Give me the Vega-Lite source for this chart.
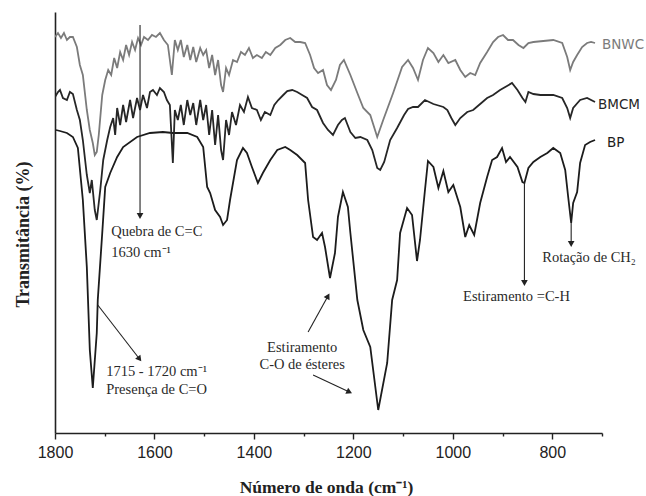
{
  "$schema": "https://vega.github.io/schema/vega-lite/v6.json",
  "width": 547,
  "height": 421,
  "autosize": {"type": "none"},
  "padding": {"left": 55, "top": 12, "right": 44, "bottom": 63},
  "background": "white",
  "config": {"view": {"stroke": null}},
  "datasets": {
    "spectra": [
      {"s":"BP","wn":1798,"v":310},{"s":"BP","wn":1790,"v":309},{"s":"BP","wn":1776,"v":307},{"s":"BP","wn":1764,"v":303},{"s":"BP","wn":1754,"v":292},{"s":"BP","wn":1744,"v":240},{"s":"BP","wn":1736,"v":173},{"s":"BP","wn":1730,"v":90},{"s":"BP","wn":1724,"v":52},{"s":"BP","wn":1716,"v":107},{"s":"BP","wn":1714,"v":140},{"s":"BP","wn":1705,"v":207},{"s":"BP","wn":1699,"v":253},{"s":"BP","wn":1689,"v":267},{"s":"BP","wn":1675,"v":283},{"s":"BP","wn":1663,"v":293},{"s":"BP","wn":1635,"v":303},{"s":"BP","wn":1609,"v":307},{"s":"BP","wn":1583,"v":308},{"s":"BP","wn":1563,"v":307},{"s":"BP","wn":1534,"v":307},{"s":"BP","wn":1514,"v":303},{"s":"BP","wn":1502,"v":293},{"s":"BP","wn":1494,"v":253},{"s":"BP","wn":1488,"v":247},{"s":"BP","wn":1478,"v":230},{"s":"BP","wn":1468,"v":223},{"s":"BP","wn":1462,"v":215},{"s":"BP","wn":1454,"v":220},{"s":"BP","wn":1448,"v":240},{"s":"BP","wn":1434,"v":280},{"s":"BP","wn":1422,"v":292},{"s":"BP","wn":1414,"v":287},{"s":"BP","wn":1404,"v":273},{"s":"BP","wn":1392,"v":257},{"s":"BP","wn":1382,"v":267},{"s":"BP","wn":1367,"v":280},{"s":"BP","wn":1353,"v":290},{"s":"BP","wn":1337,"v":293},{"s":"BP","wn":1327,"v":290},{"s":"BP","wn":1313,"v":285},{"s":"BP","wn":1297,"v":277},{"s":"BP","wn":1291,"v":240},{"s":"BP","wn":1281,"v":203},{"s":"BP","wn":1273,"v":200},{"s":"BP","wn":1263,"v":207},{"s":"BP","wn":1257,"v":193},{"s":"BP","wn":1247,"v":162},{"s":"BP","wn":1237,"v":187},{"s":"BP","wn":1231,"v":223},{"s":"BP","wn":1221,"v":248},{"s":"BP","wn":1211,"v":233},{"s":"BP","wn":1206,"v":207},{"s":"BP","wn":1192,"v":140},{"s":"BP","wn":1180,"v":110},{"s":"BP","wn":1166,"v":93},{"s":"BP","wn":1150,"v":30},{"s":"BP","wn":1132,"v":77},{"s":"BP","wn":1122,"v":140},{"s":"BP","wn":1112,"v":160},{"s":"BP","wn":1106,"v":207},{"s":"BP","wn":1092,"v":232},{"s":"BP","wn":1082,"v":225},{"s":"BP","wn":1072,"v":179},{"s":"BP","wn":1066,"v":200},{"s":"BP","wn":1056,"v":250},{"s":"BP","wn":1050,"v":279},{"s":"BP","wn":1039,"v":273},{"s":"BP","wn":1029,"v":252},{"s":"BP","wn":1019,"v":269},{"s":"BP","wn":1009,"v":248},{"s":"BP","wn":999,"v":255},{"s":"BP","wn":985,"v":233},{"s":"BP","wn":975,"v":203},{"s":"BP","wn":967,"v":215},{"s":"BP","wn":957,"v":205},{"s":"BP","wn":945,"v":237},{"s":"BP","wn":931,"v":263},{"s":"BP","wn":921,"v":280},{"s":"BP","wn":911,"v":283},{"s":"BP","wn":901,"v":292},{"s":"BP","wn":893,"v":278},{"s":"BP","wn":885,"v":283},{"s":"BP","wn":870,"v":273},{"s":"BP","wn":860,"v":258},{"s":"BP","wn":856,"v":257},{"s":"BP","wn":848,"v":272},{"s":"BP","wn":838,"v":278},{"s":"BP","wn":824,"v":283},{"s":"BP","wn":810,"v":287},{"s":"BP","wn":798,"v":292},{"s":"BP","wn":784,"v":287},{"s":"BP","wn":774,"v":270},{"s":"BP","wn":768,"v":243},{"s":"BP","wn":762,"v":217},{"s":"BP","wn":758,"v":237},{"s":"BP","wn":750,"v":248},{"s":"BP","wn":744,"v":277},{"s":"BP","wn":734,"v":295},{"s":"BP","wn":724,"v":298},{"s":"BP","wn":714,"v":300},
      {"s":"BMCM","wn":1800,"v":343},{"s":"BMCM","wn":1794,"v":348},{"s":"BMCM","wn":1790,"v":350},{"s":"BMCM","wn":1784,"v":342},{"s":"BMCM","wn":1776,"v":340},{"s":"BMCM","wn":1770,"v":348},{"s":"BMCM","wn":1764,"v":346},{"s":"BMCM","wn":1756,"v":330},{"s":"BMCM","wn":1750,"v":320},{"s":"BMCM","wn":1744,"v":300},{"s":"BMCM","wn":1736,"v":265},{"s":"BMCM","wn":1730,"v":247},{"s":"BMCM","wn":1726,"v":260},{"s":"BMCM","wn":1720,"v":230},{"s":"BMCM","wn":1716,"v":220},{"s":"BMCM","wn":1709,"v":250},{"s":"BMCM","wn":1703,"v":280},{"s":"BMCM","wn":1695,"v":300},{"s":"BMCM","wn":1689,"v":313},{"s":"BMCM","wn":1683,"v":322},{"s":"BMCM","wn":1679,"v":305},{"s":"BMCM","wn":1675,"v":332},{"s":"BMCM","wn":1669,"v":315},{"s":"BMCM","wn":1663,"v":335},{"s":"BMCM","wn":1657,"v":318},{"s":"BMCM","wn":1649,"v":340},{"s":"BMCM","wn":1643,"v":322},{"s":"BMCM","wn":1635,"v":342},{"s":"BMCM","wn":1629,"v":330},{"s":"BMCM","wn":1623,"v":345},{"s":"BMCM","wn":1615,"v":332},{"s":"BMCM","wn":1609,"v":348},{"s":"BMCM","wn":1603,"v":350},{"s":"BMCM","wn":1595,"v":345},{"s":"BMCM","wn":1589,"v":352},{"s":"BMCM","wn":1581,"v":348},{"s":"BMCM","wn":1575,"v":340},{"s":"BMCM","wn":1569,"v":335},{"s":"BMCM","wn":1563,"v":277},{"s":"BMCM","wn":1559,"v":330},{"s":"BMCM","wn":1553,"v":320},{"s":"BMCM","wn":1547,"v":335},{"s":"BMCM","wn":1541,"v":315},{"s":"BMCM","wn":1534,"v":340},{"s":"BMCM","wn":1528,"v":325},{"s":"BMCM","wn":1522,"v":337},{"s":"BMCM","wn":1516,"v":315},{"s":"BMCM","wn":1508,"v":340},{"s":"BMCM","wn":1502,"v":320},{"s":"BMCM","wn":1496,"v":335},{"s":"BMCM","wn":1490,"v":305},{"s":"BMCM","wn":1484,"v":330},{"s":"BMCM","wn":1478,"v":295},{"s":"BMCM","wn":1472,"v":325},{"s":"BMCM","wn":1466,"v":290},{"s":"BMCM","wn":1462,"v":280},{"s":"BMCM","wn":1456,"v":320},{"s":"BMCM","wn":1450,"v":305},{"s":"BMCM","wn":1444,"v":328},{"s":"BMCM","wn":1436,"v":315},{"s":"BMCM","wn":1428,"v":335},{"s":"BMCM","wn":1420,"v":328},{"s":"BMCM","wn":1412,"v":343},{"s":"BMCM","wn":1404,"v":332},{"s":"BMCM","wn":1394,"v":330},{"s":"BMCM","wn":1386,"v":320},{"s":"BMCM","wn":1378,"v":328},{"s":"BMCM","wn":1367,"v":325},{"s":"BMCM","wn":1359,"v":335},{"s":"BMCM","wn":1351,"v":340},{"s":"BMCM","wn":1341,"v":345},{"s":"BMCM","wn":1333,"v":349},{"s":"BMCM","wn":1323,"v":350},{"s":"BMCM","wn":1313,"v":348},{"s":"BMCM","wn":1303,"v":345},{"s":"BMCM","wn":1293,"v":342},{"s":"BMCM","wn":1283,"v":333},{"s":"BMCM","wn":1273,"v":330},{"s":"BMCM","wn":1261,"v":317},{"s":"BMCM","wn":1251,"v":310},{"s":"BMCM","wn":1241,"v":305},{"s":"BMCM","wn":1231,"v":315},{"s":"BMCM","wn":1223,"v":320},{"s":"BMCM","wn":1217,"v":322},{"s":"BMCM","wn":1206,"v":308},{"s":"BMCM","wn":1196,"v":302},{"s":"BMCM","wn":1186,"v":303},{"s":"BMCM","wn":1172,"v":300},{"s":"BMCM","wn":1162,"v":290},{"s":"BMCM","wn":1152,"v":272},{"s":"BMCM","wn":1146,"v":270},{"s":"BMCM","wn":1138,"v":278},{"s":"BMCM","wn":1126,"v":300},{"s":"BMCM","wn":1112,"v":312},{"s":"BMCM","wn":1098,"v":325},{"s":"BMCM","wn":1090,"v":331},{"s":"BMCM","wn":1080,"v":333},{"s":"BMCM","wn":1070,"v":333},{"s":"BMCM","wn":1056,"v":340},{"s":"BMCM","wn":1039,"v":336},{"s":"BMCM","wn":1019,"v":333},{"s":"BMCM","wn":1011,"v":330},{"s":"BMCM","wn":1003,"v":322},{"s":"BMCM","wn":995,"v":315},{"s":"BMCM","wn":985,"v":322},{"s":"BMCM","wn":971,"v":328},{"s":"BMCM","wn":959,"v":330},{"s":"BMCM","wn":945,"v":336},{"s":"BMCM","wn":931,"v":342},{"s":"BMCM","wn":919,"v":345},{"s":"BMCM","wn":905,"v":350},{"s":"BMCM","wn":891,"v":354},{"s":"BMCM","wn":881,"v":357},{"s":"BMCM","wn":870,"v":350},{"s":"BMCM","wn":860,"v":342},{"s":"BMCM","wn":854,"v":338},{"s":"BMCM","wn":848,"v":348},{"s":"BMCM","wn":838,"v":346},{"s":"BMCM","wn":824,"v":345},{"s":"BMCM","wn":810,"v":345},{"s":"BMCM","wn":798,"v":345},{"s":"BMCM","wn":780,"v":342},{"s":"BMCM","wn":770,"v":332},{"s":"BMCM","wn":764,"v":322},{"s":"BMCM","wn":758,"v":332},{"s":"BMCM","wn":744,"v":340},{"s":"BMCM","wn":730,"v":342},{"s":"BMCM","wn":714,"v":338},
      {"s":"BNWC","wn":1800,"v":403},{"s":"BNWC","wn":1794,"v":407},{"s":"BNWC","wn":1788,"v":402},{"s":"BNWC","wn":1782,"v":407},{"s":"BNWC","wn":1776,"v":400},{"s":"BNWC","wn":1770,"v":403},{"s":"BNWC","wn":1764,"v":403},{"s":"BNWC","wn":1756,"v":393},{"s":"BNWC","wn":1750,"v":375},{"s":"BNWC","wn":1744,"v":365},{"s":"BNWC","wn":1736,"v":330},{"s":"BNWC","wn":1730,"v":310},{"s":"BNWC","wn":1724,"v":297},{"s":"BNWC","wn":1720,"v":285},{"s":"BNWC","wn":1716,"v":288},{"s":"BNWC","wn":1712,"v":305},{"s":"BNWC","wn":1705,"v":345},{"s":"BNWC","wn":1699,"v":360},{"s":"BNWC","wn":1693,"v":370},{"s":"BNWC","wn":1687,"v":365},{"s":"BNWC","wn":1681,"v":382},{"s":"BNWC","wn":1675,"v":372},{"s":"BNWC","wn":1669,"v":388},{"s":"BNWC","wn":1663,"v":380},{"s":"BNWC","wn":1657,"v":395},{"s":"BNWC","wn":1651,"v":385},{"s":"BNWC","wn":1645,"v":398},{"s":"BNWC","wn":1639,"v":390},{"s":"BNWC","wn":1633,"v":402},{"s":"BNWC","wn":1627,"v":395},{"s":"BNWC","wn":1621,"v":403},{"s":"BNWC","wn":1613,"v":400},{"s":"BNWC","wn":1605,"v":405},{"s":"BNWC","wn":1597,"v":403},{"s":"BNWC","wn":1589,"v":407},{"s":"BNWC","wn":1581,"v":400},{"s":"BNWC","wn":1573,"v":395},{"s":"BNWC","wn":1565,"v":365},{"s":"BNWC","wn":1559,"v":400},{"s":"BNWC","wn":1553,"v":390},{"s":"BNWC","wn":1547,"v":400},{"s":"BNWC","wn":1541,"v":383},{"s":"BNWC","wn":1534,"v":395},{"s":"BNWC","wn":1528,"v":380},{"s":"BNWC","wn":1522,"v":393},{"s":"BNWC","wn":1516,"v":378},{"s":"BNWC","wn":1508,"v":392},{"s":"BNWC","wn":1502,"v":385},{"s":"BNWC","wn":1496,"v":390},{"s":"BNWC","wn":1490,"v":372},{"s":"BNWC","wn":1484,"v":385},{"s":"BNWC","wn":1478,"v":365},{"s":"BNWC","wn":1472,"v":380},{"s":"BNWC","wn":1466,"v":355},{"s":"BNWC","wn":1462,"v":348},{"s":"BNWC","wn":1456,"v":372},{"s":"BNWC","wn":1450,"v":365},{"s":"BNWC","wn":1442,"v":380},{"s":"BNWC","wn":1434,"v":378},{"s":"BNWC","wn":1426,"v":388},{"s":"BNWC","wn":1418,"v":385},{"s":"BNWC","wn":1410,"v":392},{"s":"BNWC","wn":1402,"v":382},{"s":"BNWC","wn":1394,"v":385},{"s":"BNWC","wn":1384,"v":382},{"s":"BNWC","wn":1376,"v":388},{"s":"BNWC","wn":1367,"v":385},{"s":"BNWC","wn":1357,"v":392},{"s":"BNWC","wn":1347,"v":395},{"s":"BNWC","wn":1337,"v":400},{"s":"BNWC","wn":1327,"v":402},{"s":"BNWC","wn":1317,"v":398},{"s":"BNWC","wn":1307,"v":398},{"s":"BNWC","wn":1297,"v":397},{"s":"BNWC","wn":1287,"v":385},{"s":"BNWC","wn":1279,"v":372},{"s":"BNWC","wn":1271,"v":367},{"s":"BNWC","wn":1261,"v":370},{"s":"BNWC","wn":1253,"v":355},{"s":"BNWC","wn":1245,"v":350},{"s":"BNWC","wn":1235,"v":360},{"s":"BNWC","wn":1227,"v":375},{"s":"BNWC","wn":1219,"v":380},{"s":"BNWC","wn":1206,"v":365},{"s":"BNWC","wn":1192,"v":347},{"s":"BNWC","wn":1180,"v":332},{"s":"BNWC","wn":1166,"v":325},{"s":"BNWC","wn":1152,"v":303},{"s":"BNWC","wn":1140,"v":320},{"s":"BNWC","wn":1120,"v":347},{"s":"BNWC","wn":1102,"v":373},{"s":"BNWC","wn":1090,"v":380},{"s":"BNWC","wn":1080,"v":372},{"s":"BNWC","wn":1070,"v":360},{"s":"BNWC","wn":1060,"v":380},{"s":"BNWC","wn":1050,"v":392},{"s":"BNWC","wn":1039,"v":387},{"s":"BNWC","wn":1029,"v":378},{"s":"BNWC","wn":1019,"v":385},{"s":"BNWC","wn":1009,"v":377},{"s":"BNWC","wn":995,"v":380},{"s":"BNWC","wn":985,"v":370},{"s":"BNWC","wn":975,"v":363},{"s":"BNWC","wn":965,"v":367},{"s":"BNWC","wn":955,"v":365},{"s":"BNWC","wn":945,"v":377},{"s":"BNWC","wn":931,"v":388},{"s":"BNWC","wn":919,"v":398},{"s":"BNWC","wn":909,"v":403},{"s":"BNWC","wn":899,"v":405},{"s":"BNWC","wn":889,"v":400},{"s":"BNWC","wn":879,"v":400},{"s":"BNWC","wn":868,"v":395},{"s":"BNWC","wn":858,"v":392},{"s":"BNWC","wn":848,"v":397},{"s":"BNWC","wn":838,"v":398},{"s":"BNWC","wn":818,"v":399},{"s":"BNWC","wn":798,"v":400},{"s":"BNWC","wn":780,"v":397},{"s":"BNWC","wn":770,"v":383},{"s":"BNWC","wn":764,"v":370},{"s":"BNWC","wn":758,"v":378},{"s":"BNWC","wn":750,"v":385},{"s":"BNWC","wn":740,"v":393},{"s":"BNWC","wn":730,"v":397},{"s":"BNWC","wn":722,"v":398},{"s":"BNWC","wn":714,"v":397}
    ],
    "arrows": [
      {"x1":1629,"y1":415,"x2":1629,"y2":224},
      {"x1":1714,"y1":135,"x2":1630,"y2":81},
      {"x1":1291,"y1":108,"x2":1251,"y2":144},
      {"x1":1281,"y1":65,"x2":1208,"y2":48},
      {"x1":856,"y1":257,"x2":856,"y2":157},
      {"x1":762,"y1":217,"x2":762,"y2":196}
    ],
    "heads": [
      {"wn":1629,"v":224,"ang":180},
      {"wn":1630,"v":81,"ang":142},
      {"wn":1251,"v":144,"ang":29},
      {"wn":1208,"v":48,"ang":115},
      {"wn":856,"v":157,"ang":180},
      {"wn":762,"v":196,"ang":180}
    ],
    "notesLeft": [
      {"wn":1687,"v":208,"t":"Quebra de C=C"},
      {"wn":1687,"v":187,"t":"1630 cm⁻¹"},
      {"wn":1697,"v":68,"t":"1715 - 1720 cm⁻¹"},
      {"wn":1697,"v":50,"t":"Presença de C=O"}
    ],
    "notesCenter": [
      {"wn":1303,"v":92,"t":"Estiramento"},
      {"wn":1303,"v":75,"t":"C-O de ésteres"},
      {"wn":872,"v":143,"t":"Estiramento =C-H"},
      {"wn":726,"v":182,"t":"Rotação de CH₂"}
    ],
    "labels": [
      {"wn":700,"v":395,"t":"BNWC","s":"BNWC"},
      {"wn":708,"v":335,"t":"BMCM","s":"BMCM"},
      {"wn":690,"v":297,"t":"BP","s":"BP"}
    ]
  },
  "layer": [
    {
      "data": {"name": "spectra"},
      "mark": {"type": "line", "strokeWidth": 1.8, "clip": true},
      "encoding": {
        "x": {"field": "wn", "type": "quantitative",
          "scale": {"domain": [700, 1800], "reverse": true, "nice": false},
          "axis": {"title": "Número de onda (cm⁻¹)", "values": [1800,1700,1600,1500,1400,1300,1200,1100,1000,900,800,700],
            "labelExpr": "datum.value % 200 == 0 && datum.value != 700 ? datum.label : ''",
            "labelFlush": false, "labelOverlap": false,
            "format": "d", "grid": false, "domainColor": "#222", "domainWidth": 1.6,
            "tickColor": "#222", "tickWidth": 1.4,
            "tickSize": {"condition": {"test": "datum.value % 200 == 0", "value": 6}, "value": 3},
            "labelPadding": 5,
            "labelFont": "Liberation Sans", "labelFontSize": 16, "labelColor": "#222",
            "titleFont": "Liberation Serif", "titleFontSize": 17.5, "titleFontWeight": "bold",
            "titleColor": "#222", "titleX": 271, "titleY": 54, "titleBaseline": "middle", "titleAlign": "center", "titleAnchor": null}},
        "y": {"field": "v", "type": "quantitative",
          "scale": {"domain": [7, 428], "nice": false},
          "axis": {"title": "Transmitância (%)", "labels": false, "ticks": false, "grid": false,
            "domainColor": "#222", "domainWidth": 1.6,
            "titleFont": "Liberation Serif", "titleFontSize": 18, "titleFontWeight": "bold",
            "titleColor": "#222", "titleX": -32, "titleY": 222, "titleBaseline": "middle", "titleAlign": "center", "titleAnchor": null}},
        "color": {"field": "s", "type": "nominal",
          "scale": {"domain": ["BP", "BMCM", "BNWC"], "range": ["#1c1c1c", "#262626", "#7b7b7b"]},
          "legend": null}
      }
    },
    {
      "data": {"name": "arrows"},
      "mark": {"type": "rule", "color": "#222", "strokeWidth": 1.1},
      "encoding": {
        "x": {"field": "x1", "type": "quantitative"},
        "x2": {"field": "x2"},
        "y": {"field": "y1", "type": "quantitative"},
        "y2": {"field": "y2"}
      }
    },
    {
      "data": {"name": "heads"},
      "mark": {"type": "point", "shape": "triangle-up", "filled": true, "color": "#222", "size": 45, "opacity": 1},
      "encoding": {
        "x": {"field": "wn", "type": "quantitative"},
        "y": {"field": "v", "type": "quantitative"},
        "angle": {"field": "ang", "type": "quantitative", "scale": null}
      }
    },
    {
      "data": {"name": "notesLeft"},
      "mark": {"type": "text", "font": "Liberation Serif", "fontSize": 14.5, "color": "#2a2a2a", "baseline": "middle", "align": "left"},
      "encoding": {
        "x": {"field": "wn", "type": "quantitative"},
        "y": {"field": "v", "type": "quantitative"},
        "text": {"field": "t"}
      }
    },
    {
      "data": {"name": "notesCenter"},
      "mark": {"type": "text", "font": "Liberation Serif", "fontSize": 14.5, "color": "#2a2a2a", "baseline": "middle", "align": "center"},
      "encoding": {
        "x": {"field": "wn", "type": "quantitative"},
        "y": {"field": "v", "type": "quantitative"},
        "text": {"field": "t"}
      }
    },
    {
      "data": {"name": "labels"},
      "mark": {"type": "text", "font": "DejaVu Sans", "fontSize": 13.5, "align": "left", "baseline": "middle"},
      "encoding": {
        "x": {"field": "wn", "type": "quantitative"},
        "y": {"field": "v", "type": "quantitative"},
        "text": {"field": "t"},
        "color": {"field": "s", "type": "nominal", "legend": null}
      }
    }
  ]
}
